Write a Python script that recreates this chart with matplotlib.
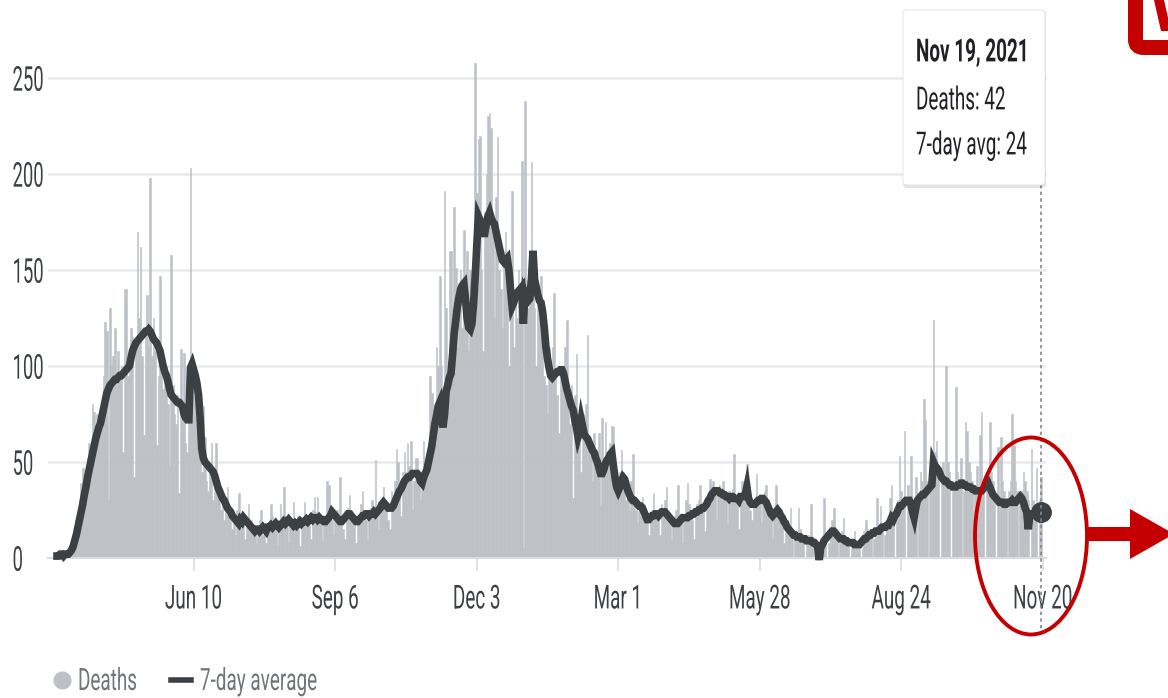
import matplotlib
matplotlib.use("Agg")
import matplotlib.pyplot as plt
import pandas as pd
from matplotlib.patches import Ellipse, Polygon, FancyBboxPatch
from matplotlib.lines import Line2D
from matplotlib.transforms import IdentityTransform, Affine2D
from matplotlib.patheffects import AbstractPathEffect

# ---- data ----
start_date = "2020-03-17"

deaths = [
    1, 2, 3, 1, 2, 4, 2,
    3, 4, 8, 10, 14, 20, 21,
    30, 39, 47, 30, 45, 52, 60,
    58, 80, 76, 55, 75, 72, 70,
    80, 95, 123, 118, 30, 130, 100,
    105, 120, 90, 108, 92, 100, 55,
    140, 140, 95, 100, 120, 115, 42,
    110, 170, 125, 162, 105, 64, 118,
    137, 110, 198, 105, 125, 108, 59,
    95, 147, 100, 88, 95, 100, 80,
    48, 158, 90, 75, 70, 85, 34,
    109, 80, 107, 60, 55, 72, 203,
    95, 90, 88, 70, 60, 55, 45,
    79, 63, 40, 35, 50, 60, 30,
    42, 60, 38, 30, 25, 32, 20,
    30, 37, 22, 25, 15, 20, 12,
    25, 34, 18, 16, 22, 10, 20,
    28, 15, 20, 12, 15, 8, 14,
    20, 25, 12, 16, 8, 18, 15,
    28, 22, 18, 16, 7, 20, 28,
    22, 37, 17, 20, 8, 18, 20,
    29, 20, 15, 22, 6, 18, 17,
    29, 22, 18, 20, 10, 25, 32,
    24, 32, 20, 18, 9, 22, 20,
    40, 38, 25, 20, 12, 22, 25,
    20, 42, 22, 15, 10, 25, 26,
    33, 25, 20, 18, 8, 22, 20,
    28, 35, 25, 20, 10, 24, 26,
    30, 26, 51, 25, 15, 28, 30,
    37, 30, 28, 20, 15, 35, 30,
    40, 57, 50, 35, 22, 45, 55,
    45, 60, 48, 61, 25, 40, 52,
    52, 45, 30, 42, 61, 50, 45,
    55, 95, 86, 60, 75, 110, 100,
    147, 100, 80, 191, 130, 85, 160,
    160, 130, 183, 151, 110, 140, 150,
    120, 171, 146, 160, 108, 150, 146,
    160, 258, 190, 218, 220, 150, 108,
    180, 200, 230, 232, 224, 170, 125,
    188, 219, 150, 140, 120, 160, 170,
    160, 100, 130, 191, 110, 140, 125,
    150, 140, 207, 5, 238, 145, 130,
    150, 206, 145, 130, 100, 140, 125,
    147, 120, 95, 90, 75, 110, 100,
    110, 138, 95, 85, 65, 100, 95,
    100, 110, 124, 85, 70, 90, 31,
    85, 106, 70, 60, 45, 75, 70,
    80, 116, 60, 55, 40, 65, 50,
    55, 65, 27, 73, 50, 71, 55,
    50, 60, 69, 68, 35, 40, 30,
    45, 56, 45, 40, 30, 35, 25,
    40, 54, 30, 25, 18, 28, 22,
    32, 28, 22, 20, 12, 20, 25,
    34, 25, 22, 20, 12, 28, 26,
    30, 37, 22, 20, 10, 20, 22,
    25, 38, 22, 18, 8, 20, 30,
    39, 28, 24, 20, 10, 25, 28,
    30, 38, 28, 25, 14, 30, 32,
    41, 38, 40, 35, 20, 36, 38,
    32, 40, 35, 30, 18, 35, 30,
    36, 54, 32, 28, 15, 34, 40,
    35, 36, 49, 30, 25, 20, 28,
    30, 44, 32, 28, 18, 30, 35,
    38, 30, 25, 20, 10, 22, 38,
    28, 22, 18, 20, 8, 15, 20,
    12, 26, 15, 0, 10, 12, 26,
    15, 12, 10, 0, 8, 12, 10,
    28, 10, 8, 0, 6, 0, 5,
    10, 31, 12, 0, 8, 14, 20,
    26, 12, 10, 0, 8, 14, 21,
    10, 9, 8, 0, 6, 10, 14,
    8, 6, 9, 0, 5, 14, 20,
    15, 12, 14, 0, 10, 14, 31,
    16, 27, 18, 0, 12, 20, 16,
    31, 38, 20, 0, 28, 30, 53,
    35, 30, 66, 0, 38, 30, 53,
    30, 25, 42, 0, 30, 45, 40,
    83, 72, 40, 0, 45, 50, 124,
    55, 61, 45, 0, 40, 50, 38,
    100, 50, 45, 0, 35, 40, 89,
    45, 40, 52, 0, 35, 71, 66,
    50, 45, 40, 0, 35, 48, 30,
    64, 76, 40, 0, 38, 45, 71,
    45, 40, 35, 0, 58, 30, 63,
    40, 35, 30, 0, 35, 40, 75,
    59, 40, 35, 0, 30, 35, 45,
    40, 35, 30, 0, 57, 30, 25,
    47, 0, 30, 42,
]

avg7 = [
    1, 1, 2, 2, 1, 2, 2,
    2, 3, 4, 6, 9, 12, 16,
    20, 24, 28, 33, 37, 42, 46,
    50, 54, 58, 62, 65, 68, 70,
    74, 78, 82, 86, 88, 90, 91,
    92, 93, 93, 94, 95, 95, 96,
    97, 98, 99, 100, 104, 108, 110,
    112, 113, 114, 115, 116, 117, 118,
    118, 119, 118, 116, 114, 113, 112,
    110, 108, 104, 100, 97, 95, 92,
    88, 85, 84, 83, 82, 81, 81,
    80, 79, 75, 73, 72, 72, 99,
    101, 98, 95, 91, 85, 73, 57,
    52, 50, 49, 48, 47, 46, 45,
    43, 40, 37, 35, 33, 31, 30,
    28, 26, 25, 24, 22, 21, 20,
    19, 18, 20, 19, 21, 20, 19,
    18, 17, 16, 15, 14, 15, 15,
    14, 15, 16, 15, 14, 16, 16,
    17, 16, 17, 18, 17, 16, 17,
    18, 19, 18, 19, 20, 19, 18,
    17, 18, 17, 18, 19, 18, 19,
    19, 20, 19, 20, 21, 20, 21,
    21, 20, 21, 20, 20, 19, 19,
    20, 21, 22, 24, 23, 22, 21,
    20, 19, 19, 20, 21, 22, 23,
    23, 22, 21, 20, 19, 19, 20,
    21, 22, 22, 23, 23, 22, 23,
    23, 24, 23, 24, 25, 26, 28,
    29, 28, 27, 26, 26, 26, 27,
    29, 31, 33, 35, 36, 38, 40,
    41, 42, 42, 43, 44, 44, 44,
    44, 43, 40, 39, 42, 44, 46,
    50, 54, 58, 64, 70, 74, 79,
    81, 74, 68, 75, 87, 90, 94,
    96, 106, 117, 124, 131, 136, 140,
    142, 143, 135, 125, 120, 119, 122,
    132, 146, 162, 178, 176, 172, 169,
    169, 174, 178, 180, 177, 175, 174,
    170, 166, 162, 158, 155, 154, 155,
    156, 150, 140, 131, 133, 136, 138,
    139, 140, 141, 122, 138, 136, 134,
    135, 145, 160, 145, 141, 137, 134,
    133, 128, 120, 110, 104, 99, 95,
    94, 95, 96, 97, 97, 98, 98,
    96, 92, 88, 85, 82, 79, 77,
    72, 68, 63, 66, 72, 68, 64,
    63, 62, 60, 58, 56, 55, 52,
    50, 47, 44, 44, 46, 49, 51,
    52, 54, 55, 48, 42, 37, 35,
    37, 40, 42, 41, 38, 35, 33,
    31, 30, 30, 29, 28, 27, 27,
    26, 24, 22, 20, 20, 21, 22,
    22, 23, 23, 22, 23, 24, 24,
    24, 23, 22, 21, 20, 19, 18,
    18, 18, 19, 20, 21, 21, 21,
    21, 22, 22, 23, 23, 24, 24,
    25, 25, 26, 26, 27, 28, 30,
    31, 33, 34, 35, 35, 35, 34,
    34, 33, 33, 32, 32, 31, 32,
    32, 31, 31, 31, 30, 32, 32,
    32, 33, 37, 31, 29, 28, 28,
    28, 29, 30, 30, 31, 31, 30,
    29, 27, 25, 23, 22, 23, 24,
    25, 24, 22, 21, 19, 18, 16,
    15, 14, 13, 12, 12, 11, 11,
    11, 10, 10, 10, 9, 9, 9,
    9, 8, 8, 7, 6, -1, 6,
    7, 9, 10, 11, 12, 13, 14,
    14, 13, 12, 11, 10, 10, 10,
    9, 9, 8, 8, 8, 8, 7,
    7, 7, 7, 8, 9, 10, 10,
    11, 12, 12, 13, 13, 14, 14,
    14, 15, 16, 16, 16, 17, 17,
    19, 21, 20, 22, 23, 25, 27,
    27, 28, 29, 30, 30, 30, 28,
    24, 21, 26, 30, 31, 32, 33,
    33, 34, 35, 36, 37, 38, 50,
    48, 47, 46, 44, 42, 41, 40,
    40, 39, 38, 38, 37, 37, 37,
    38, 38, 39, 39, 38, 38, 37,
    37, 37, 36, 36, 35, 35, 35,
    35, 35, 36, 37, 38, 39, 37,
    35, 33, 32, 31, 30, 29, 29,
    29, 28, 28, 29, 29, 29, 30,
    29, 29, 30, 31, 32, 31, 29,
    26, 24, 15, 23, 23, 23, 23,
    23, 22, 24, 24,
]

tick_dates = ["2020-06-10", "2020-09-06", "2020-12-03", "2021-03-01",
              "2021-05-28", "2021-08-24", "2021-11-20"]
tick_labels = ["Jun 10", "Sep 6", "Dec 3", "Mar 1", "May 28", "Aug 24", "Nov 20"]
y_ticks = [0, 50, 100, 150, 200, 250]
tip_lines = ["Nov 19, 2021", "Deaths: 42", "7-day avg: 24"]

W, H = 1168, 698
BAR = "#bdc1c6"
LINE = "#3c4043"
RED = "#c40000"


def fx(x):
    return x / W


def fy(y):
    return 1 - y / H


class Stretch(AbstractPathEffect):
    # the screenshot is stretched: narrow, tall glyphs
    def __init__(self, sx=0.8, sy=1.35, centered=False):
        super().__init__()
        self.sx, self.sy, self.centered = sx, sy, centered

    def draw_path(self, renderer, gc, tpath, affine, rgbFace=None):
        ext = tpath.get_extents()
        cx = ext.x0 + 0.5 * ext.width if self.centered else 0
        cy = 35
        t = Affine2D().translate(-cx, -cy).scale(self.sx, self.sy).translate(cx, cy)
        renderer.draw_path(gc, tpath, t + affine, rgbFace)


plt.rcParams['font.family'] = ['Roboto', 'DejaVu Sans']

fig = plt.figure(figsize=(W / 100, H / 100), dpi=100)
ax = fig.add_axes([fx(48), fy(558), (1046 - 48) / W, (558 - 48) / H])

days = pd.date_range(start_date, periods=len(deaths), freq="D")
ax.bar(days, deaths, width=1.0, color=BAR, edgecolor=BAR, linewidth=0.4, zorder=2)
ax.plot(days, avg7, color=LINE, lw=5.5, solid_joinstyle="miter", zorder=3, clip_on=False)
ax.plot([days[-1]], [avg7[-1]], "o", ms=14, color=LINE, zorder=4, clip_on=False)

# hover line
ax.plot([days[-1], days[-1]], [-40, 194], ls=(0, (2, 2)), color="#80868b", lw=1.2,
        clip_on=False, zorder=5)

ax.set_xlim(days[0] - pd.Timedelta(days=5.6), days[0] + pd.Timedelta(days=615))
ax.set_ylim(0, 265.6)

ax.set_yticks(y_ticks)
ax.grid(axis="y", color="#e8eaed", lw=1.8)
ax.set_axisbelow(True)
for s in ["top", "right", "left"]:
    ax.spines[s].set_visible(False)
ax.spines["bottom"].set_color("#dadce0")
ax.spines["bottom"].set_linewidth(1.5)

ax.set_xticks(pd.to_datetime(tick_dates))
ax.set_xticklabels(tick_labels)
ax.tick_params(axis="x", length=9, width=1.2, color="#dadce0", pad=12,
               labelsize=17, labelcolor="#3c4043")
ax.tick_params(axis="y", length=0, pad=25.5, labelsize=17, labelcolor="#3c4043")
for lab in ax.get_yticklabels():
    lab.set_horizontalalignment("left")
    lab.set_path_effects([Stretch(0.78, 1.45)])
for lab in ax.get_xticklabels():
    lab.set_path_effects([Stretch(0.8, 1.4, centered=True)])

# tooltip
shadow = FancyBboxPatch((903, H - 188), 143, 178, boxstyle="round,pad=0,rounding_size=4",
                        facecolor=(0, 0, 0, 0.10), edgecolor="none", transform=IdentityTransform())
fig.add_artist(shadow)
tip = FancyBboxPatch((903, H - 185), 142, 175, boxstyle="round,pad=0,rounding_size=4",
                     facecolor="white", edgecolor="#e0e0e0", lw=0.6, transform=IdentityTransform())
fig.add_artist(tip)
tip_y = [52, 100, 145]
for i, line in enumerate(tip_lines):
    t = fig.text(fx(916), fy(tip_y[i]), line, fontsize=17, color="#202124", va="center",
                 weight="bold" if i == 0 else "normal")
    t.set_path_effects([Stretch(0.8, 1.35)])

# legend
fig.add_artist(Line2D([fx(62)], [fy(680)], marker="o", ms=12, color=BAR, transform=fig.transFigure))
t = fig.text(fx(78), fy(681), "Deaths", fontsize=17, color="#70757a", va="center")
t.set_path_effects([Stretch(0.8, 1.3)])
fig.add_artist(Line2D([fx(171), fx(191)], [fy(680), fy(680)], lw=4, color=LINE, transform=fig.transFigure))
t = fig.text(fx(200), fy(681), "7-day average", fontsize=17, color="#70757a", va="center")
t.set_path_effects([Stretch(0.8, 1.3)])

# red annotation: ellipse + arrow
fig.add_artist(Ellipse((1031, H - 536), 112, 197, fill=False, edgecolor=RED, lw=2.8,
                       transform=IdentityTransform()))
arrow = Polygon([(1087, H - 527), (1130, H - 527), (1130, H - 509), (1174, H - 534),
                 (1130, H - 559), (1130, H - 541), (1087, H - 541)],
                closed=True, facecolor=RED, edgecolor="none", transform=IdentityTransform())
fig.add_artist(arrow)

# logo fragment at the top right
logo = FancyBboxPatch((1135.5, H - 47.5), 220, 140, boxstyle="round,pad=0,rounding_size=8",
                      facecolor="white", edgecolor=RED, lw=10.8, transform=IdentityTransform())
fig.add_artist(logo)
v_stroke = Polygon([(1154, H), (1164, H), (1171, H - 31), (1161, H - 31)], closed=True,
                   facecolor=RED, edgecolor="none", transform=IdentityTransform())
fig.add_artist(v_stroke)

fig.savefig("out.png", dpi=100)
